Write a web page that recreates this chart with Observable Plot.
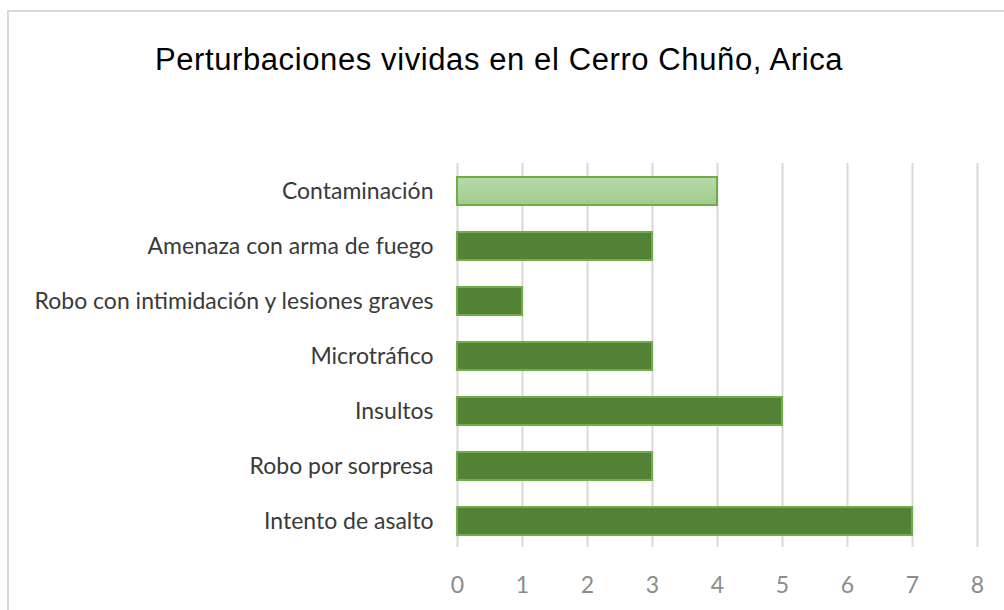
<!DOCTYPE html>
<html>
<head>
<meta charset="utf-8">
<script src="https://cdn.jsdelivr.net/npm/d3@7"></script>
<script src="https://cdn.jsdelivr.net/npm/@observablehq/plot@0.6"></script>
<style>
  html, body { margin: 0; padding: 0; background: #fff; }
  #page { position: relative; width: 1004px; height: 610px; overflow: hidden; background: #fff; }
  #frame { position: absolute; left: 7px; top: 10px; width: 1100px; height: 700px;
           border-left: 2px solid #d9d9d9; border-top: 2px solid #d9d9d9; }
  #title { position: absolute; left: 0; width: 998px; top: 44px; text-align: center; line-height: 1;
           font-family: "Liberation Sans", Arial, sans-serif; font-size: 31px; letter-spacing: 0.6px; color: #000; }
  #chart { position: absolute; left: 0; top: 149px; }
</style>
</head>
<body>
<div id="page">
  <div id="frame"></div>
  <div id="title">Perturbaciones vividas en el Cerro Chuño, Arica</div>
  <div id="chart"></div>
</div>
<script>
const categories = [
  "Contaminación",
  "Amenaza con arma de fuego",
  "Robo con intimidación y lesiones graves",
  "Microtráfico",
  "Insultos",
  "Robo por sorpresa",
  "Intento de asalto"
];
const values = [4, 3, 1, 3, 5, 3, 7];
const highlighted = ["Contaminación"];
const xTicks = [0, 1, 2, 3, 4, 5, 6, 7, 8];

const data = categories.map((c, i) => ({category: c, value: values[i]}));

const plot = Plot.plot({
  width: 1004,
  height: 461,
  marginLeft: 457,
  marginRight: 27,
  marginTop: 12,
  marginBottom: 59,
  style: {fontFamily: "Lato, sans-serif", background: "transparent", overflow: "visible"},
  x: {domain: [0, 8], ticks: xTicks, label: null},
  y: {domain: categories, paddingInner: 0.5, paddingOuter: 0.25, label: null},
  marks: [
    Plot.ruleX(xTicks, {x: d => d, stroke: "#d9d9d9", strokeWidth: 2, insetTop: 2, insetBottom: 4}),
    () => {
      const svg = d3.create("svg:defs");
      const g = svg.append("linearGradient").attr("id", "lightGrad").attr("x1", 0).attr("x2", 0).attr("y1", 0).attr("y2", 1);
      g.append("stop").attr("offset", "0%").attr("stop-color", "#b8d9ab");
      g.append("stop").attr("offset", "100%").attr("stop-color", "#9fcb8c");
      return svg.node();
    },
    Plot.barX(data, {
      x: "value",
      y: "category",
      fill: d => highlighted.includes(d.category) ? "url(#lightGrad)" : "#538135",
      stroke: "#70ad47",
      strokeWidth: 2
    }),
    Plot.axisY({tickSize: 0, tickPadding: 24, fontSize: 23, fill: "#3a3a3a", label: null}),
    Plot.axisX({ticks: xTicks, tickSize: 0, tickPadding: 25, fontSize: 23, fill: "#8c8c8c", label: null})
  ]
});
document.getElementById("chart").appendChild(plot);
</script>
</body>
</html>
